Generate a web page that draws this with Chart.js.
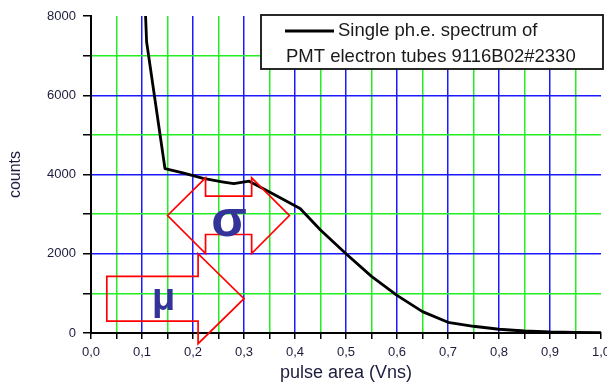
<!DOCTYPE html>
<html>
<head>
<meta charset="utf-8">
<script src="https://cdn.jsdelivr.net/npm/chart.js@4.4.1/dist/chart.umd.min.js"></script>
<style>
  html, body { margin: 0; padding: 0; background: #fff; }
  #chart { display: block; }
</style>
</head>
<body>
<canvas id="chart" width="607" height="387"></canvas>
<script>
const pulseArea = [0.107, 0.109, 0.145, 0.18, 0.22, 0.26, 0.28, 0.31, 0.35, 0.41, 0.45, 0.50, 0.55, 0.60, 0.65, 0.70, 0.75, 0.80, 0.85, 0.90, 0.95, 1.00];
const counts = [8000, 7350, 4150, 4040, 3900, 3810, 3770, 3830, 3560, 3140, 2600, 2000, 1430, 950, 540, 270, 170, 95, 50, 25, 15, 8];

const xTickLabels = ['0,0', '0,1', '0,2', '0,3', '0,4', '0,5', '0,6', '0,7', '0,8', '0,9', '1,0'];
const yTickLabels = ['0', '2000', '4000', '6000', '8000'];

const legendLines = ['Single ph.e. spectrum of', 'PMT electron tubes 9116B02#2330'];

// flèches rouges et symboles (en unités des axes)
const muArrow = { left: 0.031, base: 0.210, tip: 0.300, bodyTop: 1430, bodyBottom: 300, headTop: 2000, headBottom: -270, mid: 865 };
const sigmaArrow = { leftTip: 0.150, leftBase: 0.2246, rightBase: 0.315, rightTip: 0.389, mid: 2965, headTop: 3916, headBottom: 2006, bodyTop: 3454, bodyBottom: 2486 };
const symbols = [
  { text: 'σ', x: 0.2707, y: 2443, size: 52 },
  { text: 'μ', x: 0.1425, y: 579, size: 38 }
];

const FONT = "'Liberation Sans', Arial, sans-serif";
const BLUE = '#1a1aff';
const GREEN = '#22ee22';

function gridColor(ctx, last) {
  const i = ctx.index;
  if (i === 0 || i === last) return 'rgba(0,0,0,0)';
  return i % 2 === 0 ? BLUE : GREEN;
}

const annotations = {
  id: 'annotations',
  afterDatasetsDraw(chart) {
    const { ctx, scales: { x, y } } = chart;
    const P = (vx, vy) => [x.getPixelForValue(vx), y.getPixelForValue(vy)];
    ctx.save();
    ctx.strokeStyle = '#ff0000';
    ctx.lineWidth = 1.7;
    ctx.lineJoin = 'miter';

    const m = muArrow;
    let pts = [
      P(m.left, m.bodyTop), P(m.base, m.bodyTop), P(m.base, m.headTop), P(m.tip, m.mid),
      P(m.base, m.headBottom), P(m.base, m.bodyBottom), P(m.left, m.bodyBottom)
    ];
    ctx.beginPath();
    pts.forEach((p, i) => i ? ctx.lineTo(p[0], p[1]) : ctx.moveTo(p[0], p[1]));
    ctx.closePath();
    ctx.stroke();

    const s = sigmaArrow;
    pts = [
      P(s.leftTip, s.mid), P(s.leftBase, s.headTop), P(s.leftBase, s.bodyTop), P(s.rightBase, s.bodyTop),
      P(s.rightBase, s.headTop), P(s.rightTip, s.mid), P(s.rightBase, s.headBottom), P(s.rightBase, s.bodyBottom),
      P(s.leftBase, s.bodyBottom), P(s.leftBase, s.headBottom)
    ];
    ctx.beginPath();
    pts.forEach((p, i) => i ? ctx.lineTo(p[0], p[1]) : ctx.moveTo(p[0], p[1]));
    ctx.closePath();
    ctx.stroke();

    ctx.fillStyle = '#333399';
    ctx.textAlign = 'center';
    ctx.textBaseline = 'alphabetic';
    symbols.forEach(sym => {
      ctx.font = `bold ${sym.size}px ${FONT}`;
      const p = P(sym.x, sym.y);
      ctx.fillText(sym.text, p[0], p[1]);
    });
    ctx.restore();
  },
  afterDraw(chart) {
    // légende encadrée en haut à droite
    const { ctx, chartArea } = chart;
    const bx = chartArea.right - 340, by = chartArea.top - 1, bw = 342, bh = 54;
    ctx.save();
    ctx.fillStyle = '#fff';
    ctx.fillRect(bx, by, bw, bh);
    ctx.strokeStyle = '#111';
    ctx.lineWidth = 1.8;
    ctx.strokeRect(bx, by, bw, bh);
    ctx.strokeStyle = '#000';
    ctx.lineWidth = 3;
    ctx.beginPath();
    ctx.moveTo(bx + 24, by + 16);
    ctx.lineTo(bx + 73, by + 16);
    ctx.stroke();
    ctx.fillStyle = '#1a1a1a';
    ctx.font = `18.5px ${FONT}`;
    ctx.textAlign = 'left';
    ctx.textBaseline = 'alphabetic';
    ctx.fillText(legendLines[0], bx + 77, by + 21);
    ctx.fillText(legendLines[1], bx + 25, by + 47);
    ctx.restore();
  }
};

new Chart(document.getElementById('chart'), {
  type: 'line',
  data: {
    datasets: [{
      label: legendLines.join(' '),
      data: pulseArea.map((v, i) => ({ x: v, y: counts[i] })),
      borderColor: '#000',
      borderWidth: 2.8,
      borderJoinStyle: 'round',
      pointRadius: 0,
      tension: 0,
      fill: false
    }]
  },
  options: {
    responsive: false,
    animation: false,
    layout: { padding: { left: 0, top: 16, right: 6, bottom: 0 } },
    plugins: {
      legend: { display: false },
      tooltip: { enabled: false }
    },
    scales: {
      x: {
        type: 'linear',
        min: 0,
        max: 1,
        afterFit(scale) {
          scale.height = 54;
          scale.paddingLeft = 0;
          scale.paddingRight = 0;
        },
        ticks: {
          stepSize: 0.05,
          autoSkip: false,
          maxRotation: 0,
          padding: 6,
          color: '#1c1c3c',
          font: { family: FONT, size: 13 },
          callback: (v, i) => i % 2 === 0 ? xTickLabels[i / 2] : ''
        },
        grid: {
          color: ctx => gridColor(ctx, 20),
          lineWidth: 1.5,
          tickColor: '#000',
          tickLength: 6,
          tickWidth: 1.5
        },
        border: { color: '#000', width: 2 },
        title: {
          display: true,
          text: 'pulse area (Vns)',
          color: '#1c1c3c',
          font: { family: FONT, size: 18 },
          padding: { top: 0, bottom: 3 }
        }
      },
      y: {
        min: 0,
        max: 8000,
        afterFit(scale) {
          scale.width = 91;
          scale.paddingTop = 0;
          scale.paddingBottom = 0;
        },
        ticks: {
          stepSize: 1000,
          autoSkip: false,
          padding: 7,
          color: '#1c1c3c',
          font: { family: FONT, size: 13 },
          callback: (v, i) => i % 2 === 0 ? yTickLabels[i / 2] : ''
        },
        grid: {
          color: ctx => gridColor(ctx, 8),
          lineWidth: 1.5,
          tickColor: '#000',
          tickLength: 8,
          tickWidth: 1.5
        },
        border: { color: '#000', width: 2 },
        title: {
          display: true,
          text: 'counts',
          color: '#1c1c3c',
          font: { family: FONT, size: 16 },
          padding: { top: 6, bottom: 0 }
        }
      }
    }
  },
  plugins: [annotations]
});
</script>
</body>
</html>
